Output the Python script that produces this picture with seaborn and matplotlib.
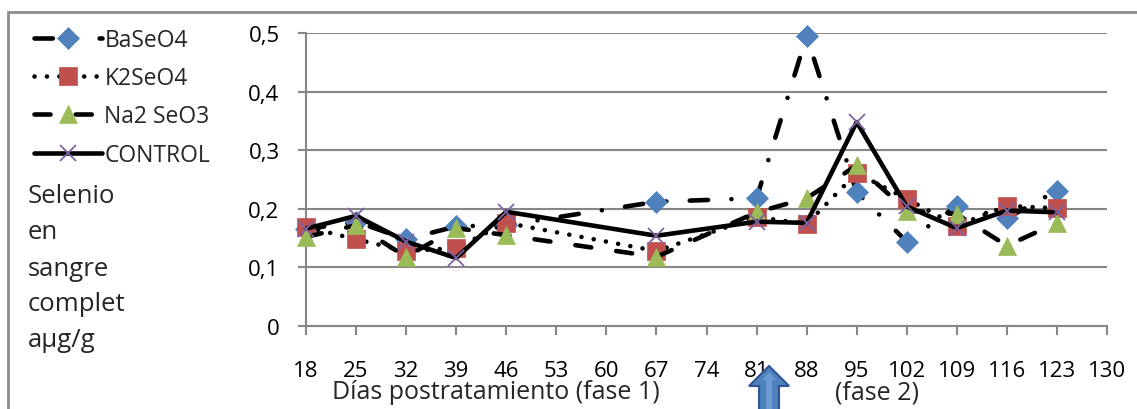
import matplotlib
matplotlib.use("Agg")
import matplotlib.pyplot as plt
import seaborn as sns
from matplotlib.patches import Polygon, Rectangle

# Days after treatment and whole-blood selenium (µg/g) per compound
days = [18, 25, 32, 39, 46, 67, 81, 88, 95, 102, 109, 116, 123]
baseo4 = [0.165, 0.178, 0.148, 0.170, 0.172, 0.212, 0.218, 0.495, 0.228, 0.144, 0.205, 0.184, 0.231]
k2seo4 = [0.169, 0.148, 0.128, 0.133, 0.176, 0.128, 0.186, 0.174, 0.261, 0.217, 0.171, 0.205, 0.201]
na2seo3 = [0.152, 0.172, 0.118, 0.167, 0.155, 0.118, 0.194, 0.218, 0.274, 0.197, 0.191, 0.137, 0.176]
control = [0.166, 0.188, 0.144, 0.116, 0.195, 0.154, 0.178, 0.176, 0.348, 0.204, 0.167, 0.197, 0.194]

x_ticks = list(range(18, 131, 7))
y_ticks = [0, 0.1, 0.2, 0.3, 0.4, 0.5]
y_tick_labels = ["0", "0,1", "0,2", "0,3", "0,4", "0,5"]
series_names = ["BaSeO4", "K2SeO4", "Na2 SeO3", "CONTROL"]

sns.set_theme(style="white")
plt.rcParams["font.family"] = ["Open Sans", "DejaVu Sans"]

W, H = 1137, 410
fig = plt.figure(figsize=(W / 100, H / 100), dpi=100)


def px(x, y):
    return (x / W, 1 - y / H)


ax = fig.add_axes([306 / W, (H - 327) / H, 801 / W, 293 / H])

grey = "#868686"
styles = [
    (baseo4, "D", 11, "#4F81BD", (0, (4.0, 5.1, 0.01, 5.1))),
    (k2seo4, "s", 12.5, "#C0504D", (0, (0.01, 2.7))),
    (na2seo3, "^", 13.5, "#9BBB59", (0, (3.5, 5.5))),
    (control, "x", 12, "#8064A2", "-"),
]
for name, (vals, mk, ms, col, ls) in zip(series_names, styles):
    sns.lineplot(
        x=days, y=vals, ax=ax, color="black", linewidth=3.3, linestyle=ls,
        marker=mk, markersize=ms, markerfacecolor=col, markeredgecolor=col,
        markeredgewidth=1.3 if mk == "x" else 0.5,
        dash_capstyle="round", solid_capstyle="round", solid_joinstyle="round",
        label=name, clip_on=False, zorder=3,
    )

ax.set_xlim(18, 130)
ax.set_ylim(0, 0.5)
ax.set_xticks(x_ticks)
ax.set_xticklabels([str(t) for t in x_ticks])
ax.set_yticks(y_ticks)
ax.set_yticklabels(y_tick_labels)
ax.set_xlabel("")
ax.set_ylabel("")
ax.grid(axis="y", color=grey, linewidth=1.5)
ax.grid(axis="x", visible=False)
for side in ["top", "right"]:
    ax.spines[side].set_visible(False)
for side in ["left", "bottom"]:
    ax.spines[side].set_color(grey)
    ax.spines[side].set_linewidth(1.5)
ax.tick_params(axis="x", direction="out", length=6.5, width=1.5, color=grey,
               pad=18, labelsize=16, labelcolor="black", bottom=True)
ax.tick_params(axis="y", direction="out", length=6, width=1.5, color=grey,
               pad=13, labelsize=16, labelcolor="black", left=True)

leg = ax.legend(loc="upper left", bbox_to_anchor=px(34, 29),
                bbox_transform=fig.transFigure, frameon=False, fontsize=16.5,
                handlelength=2.95, handletextpad=0.12, labelspacing=0.62,
                borderpad=0, borderaxespad=0)

# Chart frame
fig.patches.append(Rectangle(px(8, 500), 1.5, (500 - 13) / H, transform=fig.transFigure,
                             fill=False, edgecolor="#8C8C8C", linewidth=2, zorder=0))

# Vertical axis title, one word per line
for txt, yy in zip(["Selenio", "en", "sangre", "complet", "aµg/g"], [197, 233, 269, 305, 341]):
    fig.text(*px(28, yy), txt, fontsize=18.5, ha="left", va="center")

fig.text(*px(496, 393), "Días postratamiento (fase 1)", fontsize=18, ha="center", va="center")
fig.text(*px(877, 393), "(fase 2)", fontsize=18, ha="center", va="center")

# Arrow marking the phase change
arrow = [px(769, 367), px(789, 387), px(779, 387), px(779, 415),
         px(759, 415), px(759, 387), px(749, 387)]
fig.patches.append(Polygon(arrow, closed=True, transform=fig.transFigure,
                           facecolor="#4F81BD", edgecolor="#2F5597", linewidth=1.5))
inner = [px(769, 373), px(776, 381), px(772, 381), px(772, 415), px(766, 415),
         px(766, 381), px(762, 381)]
fig.patches.append(Polygon(inner, closed=True, transform=fig.transFigure,
                           facecolor="#6A9AD4", edgecolor="none"))

fig.savefig("out.png", dpi=100)
